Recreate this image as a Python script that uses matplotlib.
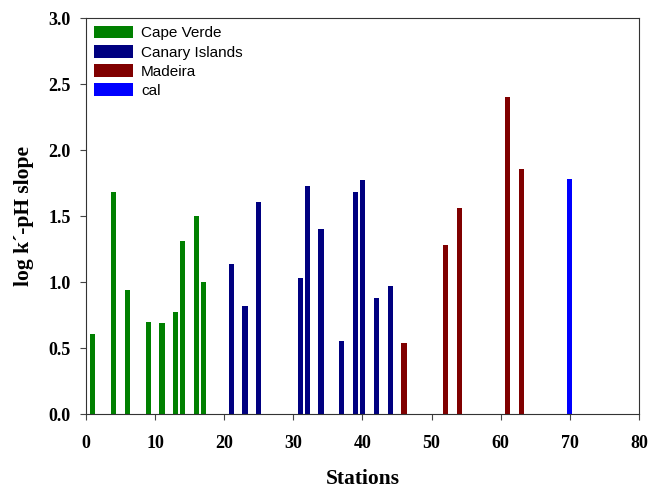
import matplotlib
matplotlib.use("Agg")
from matplotlib import pyplot as plt

cv_st = [1, 4, 6, 9, 11, 13, 14, 16, 17]
cv_val = [0.61, 1.68, 0.94, 0.70, 0.69, 0.77, 1.31, 1.50, 1.00]

ci_st = [21, 23, 25, 31, 32, 34, 37, 39, 40, 42, 44]
ci_val = [1.14, 0.82, 1.61, 1.03, 1.73, 1.40, 0.55, 1.68, 1.77, 0.88, 0.97]

ma_st = [46, 52, 54, 61, 63]
ma_val = [0.54, 1.28, 1.56, 2.40, 1.86]

cal_st = [70]
cal_val = [1.78]

fig = plt.figure(figsize=(6.49, 4.88), dpi=100)
ax = fig.add_axes([0.1325, 0.1516, 0.852, 0.8114])

w = 0.75
ax.bar(cv_st, cv_val, w, color="#008000", label="Cape Verde")
ax.bar(ci_st, ci_val, w, color="#000080", label="Canary Islands")
ax.bar(ma_st, ma_val, w, color="#800000", label="Madeira")
ax.bar(cal_st, cal_val, w, color="#0000ff", label="cal")

ax.set_xlim(0, 80)
ax.set_ylim(0, 3.0)
ax.set_xticks(range(0, 81, 10))
ax.set_yticks([0.0, 0.5, 1.0, 1.5, 2.0, 2.5, 3.0])
ax.set_yticklabels(["%.1f" % v for v in ax.get_yticks()])
ax.tick_params(direction="out", top=False, right=False, length=4, color="#444444")
ax.tick_params(axis="x", pad=11)
ax.tick_params(axis="y", pad=7)
for s in ax.spines.values():
    s.set_color("#333333")
for lab in ax.get_xticklabels() + ax.get_yticklabels():
    lab.set_fontfamily("Liberation Serif")
    lab.set_fontweight("bold")
    lab.set_fontsize(13)

ax.set_xlabel("Stations", fontfamily="Liberation Serif", fontweight="bold",
              fontsize=15.5)
ax.xaxis.set_label_coords(0.5, -0.14)
ax.set_ylabel("log k\u00b4-pH slope", fontfamily="Liberation Serif",
              fontweight="bold", fontsize=15.5, labelpad=10)

leg = ax.legend(loc="upper left", frameon=False, prop={"family": "Liberation Sans", "size": 11},
                handlelength=2.6, handleheight=0.9, handletextpad=0.5,
                borderaxespad=0.1, labelspacing=0.3, bbox_to_anchor=(0.0, 1.0))

fig.savefig("out.png", dpi=100)
